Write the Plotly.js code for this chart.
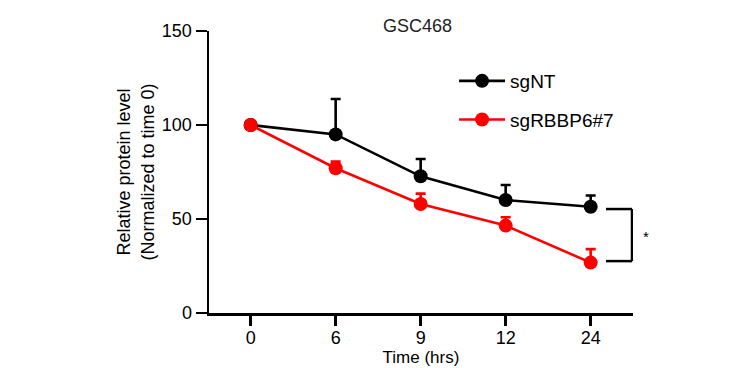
<!DOCTYPE html>
<html>
<head>
<meta charset="utf-8">
<script src="https://cdn.plot.ly/plotly-3.0.1.min.js"></script>
<style>html,body{margin:0;padding:0;background:#fff;}#chart{width:730px;height:368px;}</style>
</head>
<body>
<div id="chart"></div>
<script>
const timeLabels = ["0", "6", "9", "12", "24"];
const sgNT = [100, 95, 72.7, 60.1, 56.5];
const sgNTErr = [0, 18.8, 9.2, 8, 6];
const sgRBBP6 = [100, 77, 58, 46.5, 26.8];
const sgRBBP6Err = [0, 3.5, 5.5, 4.4, 7.2];

const xIdx = timeLabels.map((_, i) => i);
const font = "Liberation Sans, Arial, sans-serif";

const traces = [
  {
    x: xIdx, y: sgNT, name: "sgNT", mode: "lines+markers", legendgroup: "a",
    line: {color: "#000000", width: 2.6},
    marker: {color: "#000000", size: 14, symbol: "circle"},
    error_y: {type: "data", array: sgNTErr, arrayminus: sgNTErr.map(() => 0), symmetric: false,
              color: "#000000", thickness: 2.6, width: 5}
  },
  {
    x: xIdx, y: sgRBBP6, name: "sgRBBP6#7", mode: "lines+markers", legendgroup: "b",
    line: {color: "#ff0000", width: 2.6},
    marker: {color: "#ff0000", size: 14, symbol: "circle"},
    error_y: {type: "data", array: sgRBBP6Err, arrayminus: sgRBBP6Err.map(() => 0), symmetric: false,
              color: "#ff0000", thickness: 2.6, width: 5}
  }
];

const layout = {
  width: 730, height: 368,
  margin: {l: 209, r: 97, t: 31, b: 55, pad: 0},
  paper_bgcolor: "#ffffff", plot_bgcolor: "#ffffff",
  font: {family: font, size: 18, color: "#000000"},
  title: {text: "GSC468", x: 0.572, xanchor: "center", y: 0.93, yanchor: "middle",
          font: {family: font, size: 18, color: "#222222"}},
  xaxis: {
    range: [-0.49, 4.498], tickmode: "array", tickvals: xIdx, ticktext: timeLabels,
    showgrid: false, zeroline: false, showline: true, linecolor: "#000000", linewidth: 2.5,
    ticks: "outside", ticklen: 10, tickwidth: 2.5, tickcolor: "#000000",
    ticklabelstandoff: -3,
    tickfont: {family: font, size: 18, color: "#000000"},
    title: {text: "Time (hrs)", standoff: 1, font: {family: font, size: 17, color: "#000000"}}
  },
  yaxis: {
    range: [0, 150], tickvals: [0, 50, 100, 150], showgrid: false, zeroline: false,
    showline: true, linecolor: "#000000", linewidth: 2.5,
    ticks: "outside", ticklen: 11, tickwidth: 2.5, tickcolor: "#000000",
    tickfont: {family: font, size: 18, color: "#000000"},
    title: {text: "Relative protein level<br>(Normalized to time 0)", standoff: 3,
            font: {family: font, size: 18, color: "#000000"}}
  },
  showlegend: true,
  legend: {x: 0.578, y: 0.89, xanchor: "left", yanchor: "top", tracegroupgap: 11,
           bgcolor: "rgba(0,0,0,0)", font: {family: font, size: 19, color: "#000000"},
           traceorder: "grouped", itemwidth: 46},
  shapes: [
    {type: "line", xref: "x", yref: "y", x0: 4.18, x1: 4.486, y0: 55.3, y1: 55.3, line: {color: "#000", width: 2.5}},
    {type: "line", xref: "x", yref: "y", x0: 4.18, x1: 4.486, y0: 27.6, y1: 27.6, line: {color: "#000", width: 2.5}},
    {type: "line", xref: "x", yref: "y", x0: 4.486, x1: 4.486, y0: 27.6, y1: 55.3, line: {color: "#000", width: 2.5}}
  ],
  annotations: [
    {text: "*", xref: "paper", yref: "y", x: 1.02, y: 40.5, xanchor: "left", yanchor: "middle",
     showarrow: false, font: {family: font, size: 15, color: "#000"}}
  ]
};

Plotly.newPlot("chart", traces, layout, {staticPlot: true, displayModeBar: false});
</script>
</body>
</html>
